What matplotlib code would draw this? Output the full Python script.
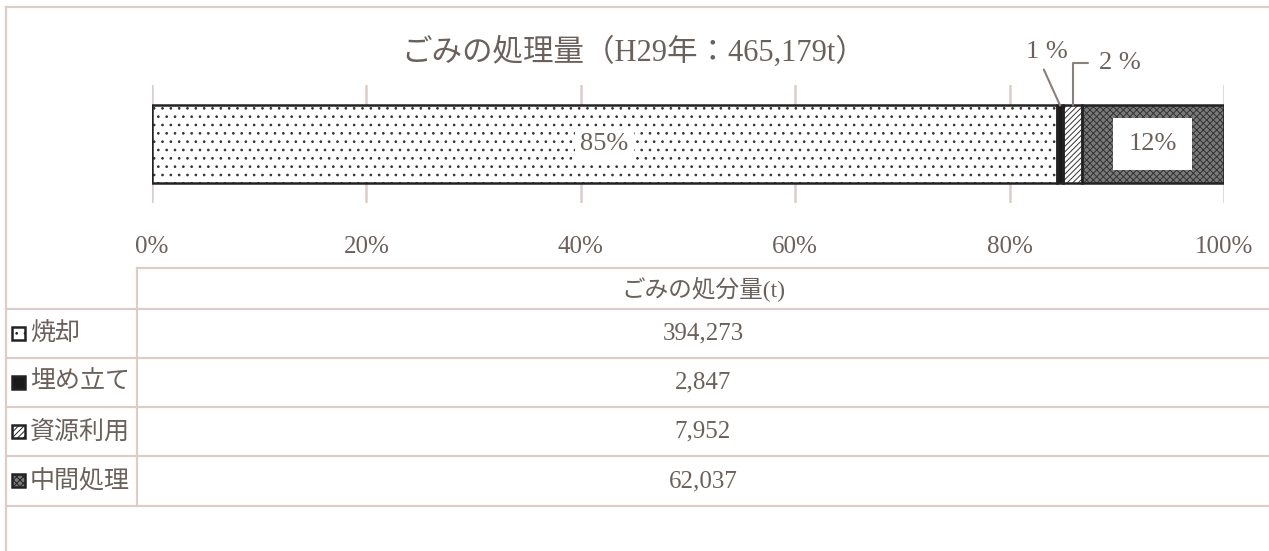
import numpy as np
import matplotlib.pyplot as plt
from matplotlib.patches import Rectangle

plt.rcParams['font.family'] = ['Liberation Serif', 'Noto Sans CJK JP']
plt.rcParams['hatch.linewidth'] = 0.7

TITLE = 'ごみの処理量（H29年：465,179t）'
categories = ['焼却', '埋め立て', '資源利用', '中間処理']
amounts = [394273, 2847, 7952, 62037]
amount_labels = ['394,273', '2,847', '7,952', '62,037']
bar_labels = ['85%', '1 %', '2 %', '12%']
tick_values = [0, 20, 40, 60, 80, 100]
tick_labels = ['0%', '20%', '40%', '60%', '80%', '100%']
table_header = 'ごみの処分量(t)'

TEXT = '#6b615c'
GRID = '#dccdc9'
W, H = 1269, 551

# fill styles per category (facecolor, hatch)
styles = [('#ffffff', '..'), ('#1a1a1a', None), ('#ffffff', '//////'), ('#7a7a7a', 'xxxxx')]

fig = plt.figure(figsize=(W / 100, H / 100), dpi=100)

# background axes in pixel coordinates for frame and table
bg = fig.add_axes([0, 0, 1, 1])
bg.set_xlim(0, W)
bg.set_ylim(H, 0)
bg.axis('off')

lw = 1.6
bg.plot([6, W], [7, 7], color=GRID, lw=lw)
bg.plot([6, 6], [7, H], color=GRID, lw=lw)
bg.plot([137, W], [268, 268], color=GRID, lw=lw)
row_y = [309, 358, 407, 456, 506]
for y in row_y:
    bg.plot([6, W], [y, y], color=GRID, lw=lw)
bg.plot([137, 137], [268, 506], color=GRID, lw=lw)

bg.text(703, 289, table_header, ha='center', va='center', fontsize=17, color=TEXT)
for i, (cat, val) in enumerate(zip(categories, amount_labels)):
    yc = (row_y[i] + row_y[i + 1]) / 2
    fc, hatch = styles[i]
    bg.add_patch(Rectangle((12, yc - 7), 13, 13, facecolor=fc, hatch=hatch,
                           edgecolor='#222222', lw=1.8))
    bg.text(30, yc, cat, ha='left', va='center', fontsize=18, color=TEXT)
    bg.text(703, yc, val, ha='center', va='center', fontsize=18, color=TEXT)

# stacked bar
ax = fig.add_axes([152 / W, 1 - 203 / H, (1224 - 152) / W, 118 / H])
ax.set_xlim(0, 100)
ax.set_ylim(-0.5, 0.5)
for s in ax.spines.values():
    s.set_visible(False)
ax.set_yticks([])
ax.set_xticks(tick_values)
ax.set_xticklabels(tick_labels, fontsize=18, color=TEXT)
ax.tick_params(axis='x', length=0, pad=24)
ax.grid(axis='x', color=GRID, lw=1.8)
ax.set_axisbelow(True)

total = sum(amounts)
shares = np.array(amounts) / total * 100
lefts = np.concatenate([[0], np.cumsum(shares)[:-1]])
bh = 0.653
for i in range(len(categories)):
    fc, hatch = styles[i]
    ax.barh(0, shares[i], left=lefts[i], height=bh, color=fc, hatch=hatch,
            edgecolor='#333333', lw=0, zorder=2)
    ax.barh(0, shares[i], left=lefts[i], height=bh, color='none',
            edgecolor='#222222', lw=1.8, zorder=3)

centers = lefts + shares / 2
ax.text(centers[0], 0, bar_labels[0], ha='center', va='center', fontsize=19,
        color=TEXT, zorder=4,
        bbox=dict(facecolor='white', edgecolor='none', pad=4))
ax.text(centers[3], 0, bar_labels[3], ha='center', va='center', fontsize=19,
        color=TEXT, zorder=4,
        bbox=dict(facecolor='white', edgecolor='none', pad=11))

top = bh / 2
ax.annotate(bar_labels[1], xy=(centers[1], top), xytext=(83.5, 0.78),
            ha='center', va='center', fontsize=19, color=TEXT, annotation_clip=False,
            arrowprops=dict(arrowstyle='-', color='#8a817c', lw=1.5,
                            relpos=(0.35, 0), shrinkA=3, shrinkB=0))
ax.annotate(bar_labels[2], xy=(centers[2], top), xytext=(90.3, 0.69),
            ha='center', va='center', fontsize=19, color=TEXT, annotation_clip=False,
            arrowprops=dict(arrowstyle='-', color='#8a817c', lw=1.5,
                            relpos=(0, 0.5), shrinkA=6, shrinkB=0,
                            connectionstyle='angle,angleA=180,angleB=90,rad=0'))

fig.text(634 / W, 1 - 52 / H, TITLE, ha='center', va='center', fontsize=22, color=TEXT)

fig.savefig('out.png', dpi=100)
